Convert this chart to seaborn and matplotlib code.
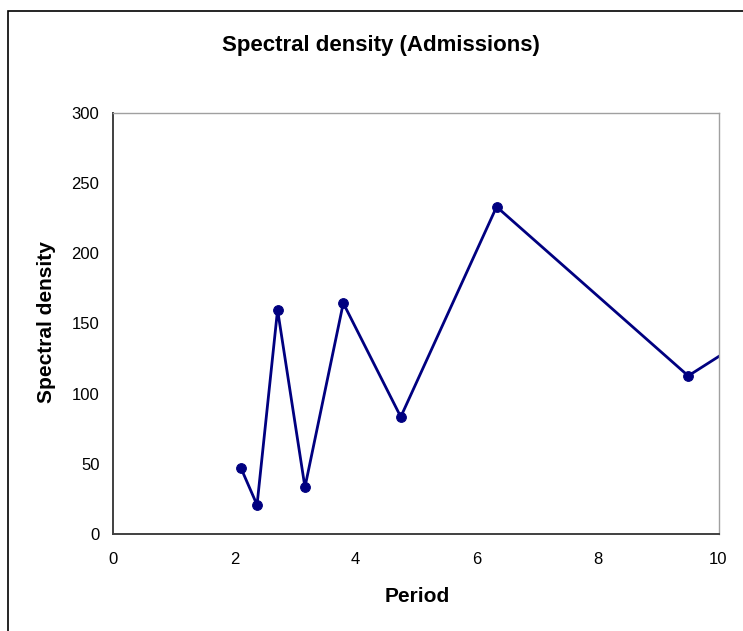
import numpy as np
import pandas as pd
import matplotlib
matplotlib.use("Agg")
import matplotlib.pyplot as plt
import seaborn as sns
from matplotlib.patches import Rectangle

# ── Data ─────────────────────────────────────────────────────
periods = [19/9, 19/8, 19/7, 19/6, 19/5, 19/4, 19/3, 19/2, 19/1]
density = [46.8, 20.7, 159.6, 33.3, 164.4, 83.4, 233.0, 112.6, 373.0]

x_ticks = [0, 2, 4, 6, 8, 10]
y_ticks = [0, 50, 100, 150, 200, 250, 300]

TITLE = "Spectral density (Admissions)"
XLABEL = "Period"
YLABEL = "Spectral density"

NAVY = "#000080"

# ── Plot ─────────────────────────────────────────────────────
sns.set_theme(style="white")
plt.rcParams["font.family"] = ["Liberation Sans", "DejaVu Sans"]
plt.rcParams["text.color"] = "black"
plt.rcParams["axes.labelcolor"] = "black"

df = pd.DataFrame({"period": periods, "density": density})

fig = plt.figure(figsize=(7.43, 6.31), dpi=100)
W, H = 743, 631
ax = fig.add_axes([113.3 / W, 1 - 534 / H, (718.5 - 113.3) / W, (534 - 112.7) / H])

sns.lineplot(data=df, x="period", y="density", sort=False, ax=ax,
             color=NAVY, lw=2, marker="o", markersize=7,
             markeredgecolor=NAVY, markerfacecolor=NAVY)

ax.set_xlim(0, 10)
ax.set_ylim(0, 300)
ax.set_xticks(x_ticks)
ax.set_yticks(y_ticks)
ax.tick_params(axis="both", direction="inout", length=8, width=1,
               color="#333333", labelsize=12, labelcolor="black")
ax.tick_params(axis="x", pad=9)
ax.tick_params(axis="y", pad=6)

for side in ["top", "right"]:
    ax.spines[side].set_visible(True)
    ax.spines[side].set_color("#a0a0a0")
    ax.spines[side].set_linewidth(1)
for side in ["left", "bottom"]:
    ax.spines[side].set_color("#404040")
    ax.spines[side].set_linewidth(1.4)

ax.set_xlabel(XLABEL, fontsize=15, fontweight="bold")
ax.set_ylabel(YLABEL, fontsize=15, fontweight="bold")
ax.xaxis.set_label_coords((417 - 113.3) / (718.5 - 113.3), -(597 - 534) / (534 - 112.7))
ax.yaxis.set_label_coords(-(113.3 - 47) / (718.5 - 113.3), (534 - 322) / (534 - 112.7))
ax.xaxis.label.set_va("center")
ax.yaxis.label.set_va("center")

fig.text(381 / W, 1 - 46 / H, TITLE, ha="center", va="center",
         fontsize=16, fontweight="bold")

# chart-area frame, cut off at the right and bottom like the original
fig.patches.append(Rectangle((8 / W, -0.1), 1.2, 1 - 11 / H + 0.1,
                             transform=fig.transFigure, fill=False,
                             edgecolor="black", lw=1.2))

fig.savefig("out.png", dpi=100)
